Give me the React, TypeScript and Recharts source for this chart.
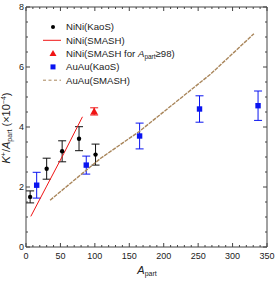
import React from 'react';
import {
  ComposedChart,
  Scatter,
  XAxis,
  YAxis,
  ErrorBar,
  ReferenceArea,
  Legend,
} from 'recharts';

// NiNi measured (KaoS)
const niniKaosA = [6, 30, 52.5, 77, 101];
const niniKaosY = [1.67, 2.61, 3.19, 3.61, 3.08];
const niniKaosErr = [0.2, 0.35, 0.35, 0.4, 0.35];

// NiNi SMASH curve
const niniSmashA = [7, 30, 55, 82];
const niniSmashY = [1.02, 2.03, 3.12, 4.34];

// NiNi SMASH point for A_part >= 98
const niniHighA = [99];
const niniHighY = [4.52];
const niniHighErr = [0.12];

// AuAu measured (KaoS)
const auauKaosA = [15.5, 87.5, 165, 252, 337];
const auauKaosY = [2.06, 2.73, 3.7, 4.6, 4.71];
const auauKaosErr = [0.43, 0.3, 0.43, 0.44, 0.49];

// AuAu SMASH curve
const auauSmashA = [35, 108, 165, 198, 268, 331];
const auauSmashY = [1.56, 2.95, 3.86, 4.47, 5.76, 7.11];

const xTicks = Array.from({ length: 36 }, (_, i) => i * 10);
const yTicks = Array.from({ length: 17 }, (_, i) => i * 0.5);

const legendItems = [
  { name: 'NiNi(KaoS)', kind: 'dot' },
  { name: 'NiNi(SMASH)', kind: 'line' },
  { name: 'NiNi(SMASH for ', kind: 'tri' },
  { name: 'AuAu(KaoS)', kind: 'square' },
  { name: 'AuAu(SMASH)', kind: 'dash' },
];

const zip = (a: number[], y: number[], e?: number[]) =>
  a.map((x, i) => ({ x, y: y[i], err: e ? e[i] : 0 }));

const FONT = '"Liberation Sans", Arial, sans-serif';
const FRAME = '#444';
const RED = '#f01414';
const BLUE = '#0a14f0';
const BROWN = '#a9865b';

const PT = 7;
const PB = 247;
const PL = 26;
const PR = 267;

const XTick = ({ x, payload }: any) => {
  const major = payload.value % 50 === 0;
  const len = major ? 4 : 2;
  return (
    <g>
      <line x1={x} x2={x} y1={PB} y2={PB - len} stroke={FRAME} />
      <line x1={x} x2={x} y1={PT} y2={PT + len} stroke={FRAME} />
      {major && (
        <text x={x} y={PB + 11.5} textAnchor="middle" fontSize={9} fill="#222" fontFamily={FONT}>
          {payload.value}
        </text>
      )}
    </g>
  );
};

const YTick = ({ y, payload }: any) => {
  const major = payload.value % 2 === 0;
  const len = major ? 4 : 2;
  return (
    <g>
      <line x1={PL} x2={PL + len} y1={y} y2={y} stroke={FRAME} />
      <line x1={PR} x2={PR - len} y1={y} y2={y} stroke={FRAME} />
      {major && (
        <text x={PL - 2} y={y + 3.2} textAnchor="end" fontSize={9} fill="#222" fontFamily={FONT}>
          {payload.value}
        </text>
      )}
    </g>
  );
};

const Dot = ({ cx, cy }: any) => <circle cx={cx} cy={cy} r={2.2} fill="#000" />;
const Square = ({ cx, cy }: any) => <rect x={cx - 2.7} y={cy - 2.7} width={5.4} height={5.4} fill={BLUE} />;
const Tri = ({ cx, cy }: any) => (
  <polygon points={`${cx},${cy - 4} ${cx - 3.8},${cy + 3} ${cx + 3.8},${cy + 3}`} fill={RED} />
);
const NoShape = () => null;

const LegendBox = () => (
  <svg width={200} height={72} style={{ overflow: 'visible' }}>
    {legendItems.map((it, i) => {
      const y = 7 + i * 13.3;
      let mark: React.ReactNode = null;
      if (it.kind === 'dot') mark = <circle cx={13} cy={y} r={2} fill="#000" />;
      if (it.kind === 'line') mark = <line x1={3} x2={21} y1={y} y2={y} stroke={RED} />;
      if (it.kind === 'tri')
        mark = <polygon points={`13,${y - 3.5} 9.5,${y + 2.5} 16.5,${y + 2.5}`} fill={RED} />;
      if (it.kind === 'square') mark = <rect x={10.5} y={y - 2.5} width={5} height={5} fill={BLUE} />;
      if (it.kind === 'dash')
        mark = <line x1={3} x2={21} y1={y} y2={y} stroke={BROWN} strokeDasharray="3 2.5" />;
      return (
        <g key={it.name}>
          {mark}
          <text x={26} y={y + 3.4} fontSize={9.6} fill="#222" fontFamily={FONT}>
            {it.name}
            {it.kind === 'tri' && (
              <>
                <tspan fontStyle="italic">A</tspan>
                <tspan fontSize={6.5} dy={2}>part</tspan>
                <tspan dy={-2}>≥98)</tspan>
              </>
            )}
          </text>
        </g>
      );
    })}
  </svg>
);

export default function App() {
  return (
    <div style={{ position: 'absolute', left: 0, top: 0 }}>
      <ComposedChart width={275} height={281} margin={{ top: 7, right: 8, bottom: 0, left: 0 }}>
        <XAxis
          type="number"
          dataKey="x"
          domain={[0, 350]}
          ticks={xTicks}
          interval={0}
          tick={<XTick />}
          tickLine={false}
          axisLine={false}
          height={34}
        />
        <YAxis
          type="number"
          dataKey="y"
          domain={[0, 8]}
          ticks={yTicks}
          interval={0}
          tick={<YTick />}
          tickLine={false}
          axisLine={false}
          width={26}
        />
        <ReferenceArea x1={0} x2={350} y1={0} y2={8} fill="none" stroke={FRAME} strokeWidth={1} />
        <Legend
          layout="horizontal"
          verticalAlign="middle"
          align="center"
          content={<LegendBox />}
          wrapperStyle={{ position: 'absolute', left: 40, top: 20, width: 200, height: 72 }}
        />
        <Scatter
          data={zip(niniSmashA, niniSmashY)}
          line={{ stroke: RED, strokeWidth: 1 }}
          shape={<NoShape />}
          isAnimationActive={false}
        />
        <Scatter
          data={zip(auauSmashA, auauSmashY)}
          line={{ stroke: BROWN, strokeWidth: 1.4, strokeDasharray: '4 1' }}
          shape={<NoShape />}
          isAnimationActive={false}
        />
        <Scatter data={zip(niniKaosA, niniKaosY, niniKaosErr)} shape={<Dot />} isAnimationActive={false}>
          <ErrorBar dataKey="err" direction="y" width={4} stroke="#111" strokeWidth={1} />
        </Scatter>
        <Scatter data={zip(auauKaosA, auauKaosY, auauKaosErr)} shape={<Square />} isAnimationActive={false}>
          <ErrorBar dataKey="err" direction="y" width={4} stroke={BLUE} strokeWidth={1} />
        </Scatter>
        <Scatter data={zip(niniHighA, niniHighY, niniHighErr)} shape={<Tri />} isAnimationActive={false}>
          <ErrorBar dataKey="err" direction="y" width={4} stroke={RED} strokeWidth={1} />
        </Scatter>
        <text
          transform="translate(10,128) rotate(-90)"
          textAnchor="middle"
          fontSize={11}
          fill="#222"
          fontFamily={FONT}
        >
          <tspan fontStyle="italic">K</tspan>
          <tspan fontSize={7} dy={-4}>+</tspan>
          <tspan dy={4}>/</tspan>
          <tspan fontStyle="italic">A</tspan>
          <tspan fontSize={7} dy={2}>part</tspan>
          <tspan dy={-2}> (×10</tspan>
          <tspan fontSize={7} dy={-4}>−4</tspan>
          <tspan dy={4}>)</tspan>
        </text>
        <text x={147} y={274} textAnchor="middle" fontSize={11} fill="#222" fontFamily={FONT}>
          <tspan fontStyle="italic">A</tspan>
          <tspan fontSize={7} dy={2}>part</tspan>
        </text>
      </ComposedChart>
    </div>
  );
}
